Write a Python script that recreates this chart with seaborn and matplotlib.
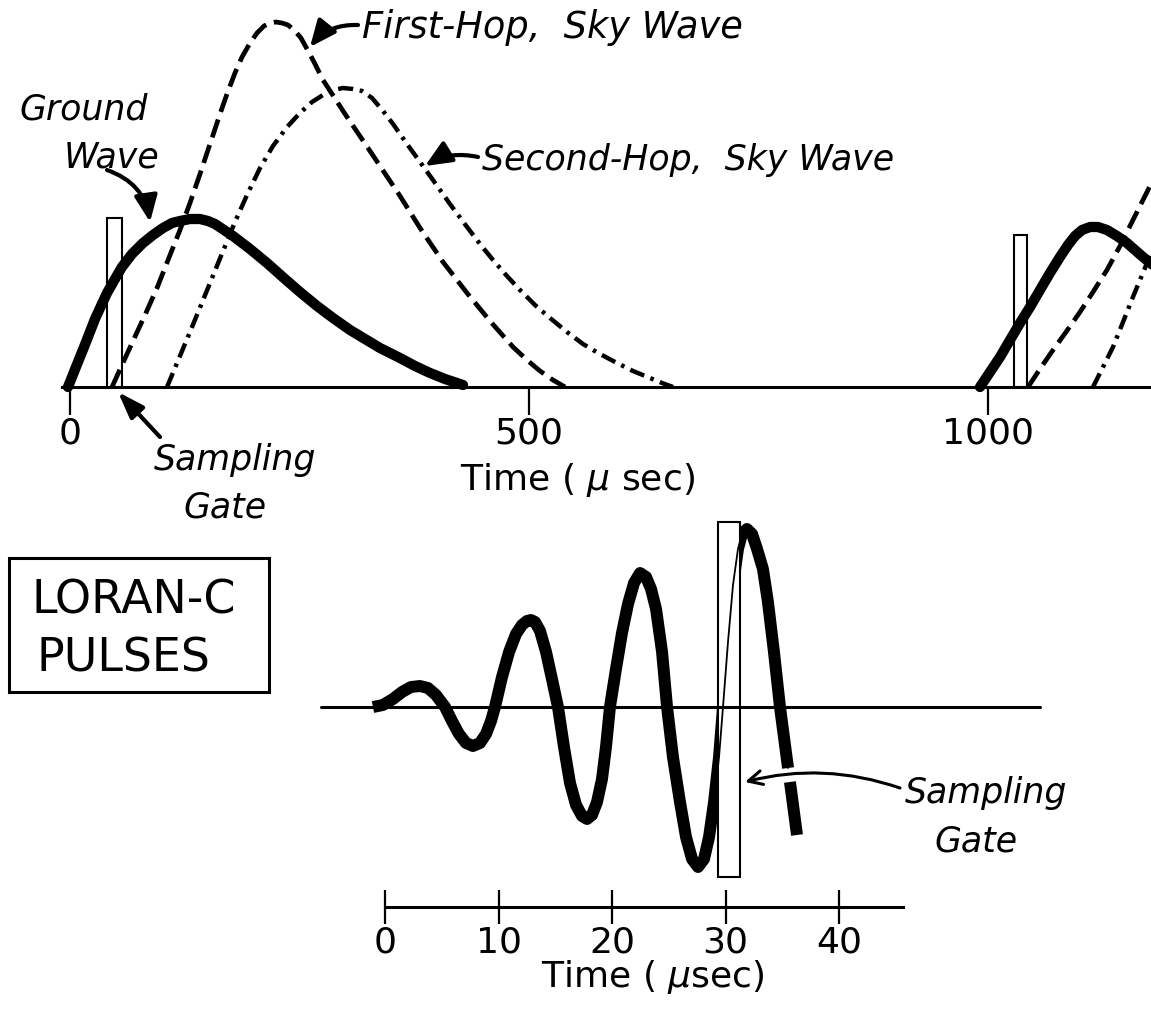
import matplotlib
matplotlib.use("Agg")
import matplotlib.pyplot as plt
import matplotlib.transforms as mtransforms
from matplotlib.patches import Rectangle, FancyArrowPatch
import seaborn as sns

# ---------------- data (time in microseconds, amplitude in arbitrary units) ----------------
# Upper panel: first pulse
gw1_t   = [-2.2, 6.5, 15.3, 27.2, 40.3, 49.0, 56.6, 67.5, 79.5, 90.4, 101.3, 111.1, 119.8, 130.7, 141.6,
           150.3, 158.0, 177.6, 196.1, 214.6, 234.2, 250.5, 269.1, 286.5, 305.0, 315.9, 337.7, 359.5,
           375.8, 392.2, 408.5, 428.1]
gw1_amp = [0, 20, 40, 68, 94, 108, 120, 133, 144, 152, 159, 164, 166, 168, 168,
           166, 163, 151, 138, 124, 108, 95, 81, 69, 57, 51, 39, 29,
           21, 14, 8, 2]

hop1_t   = [45.8, 56.6, 68.6, 81.7, 94.8, 106.8, 119.8, 130.7, 141.6, 149.2, 155.8, 163.4, 171.0, 179.7,
            187.4, 196.1, 203.7, 211.3, 217.9, 224.4, 230.9, 237.5, 245.1, 251.6, 258.2, 265.8, 275.6,
            299.6, 326.8, 359.5, 381.3, 406.3, 432.5, 457.5, 482.6, 497.8, 512.0, 526.1, 539.2]
hop1_amp = [0, 22, 46, 72, 99, 127, 157, 184, 213, 234, 252, 273, 293, 314,
            330, 344, 354, 361, 364, 365, 364, 362, 356, 349, 338, 325, 307,
            273, 236, 191, 159, 125, 94, 66, 40, 27, 16, 7, 0]

hop2_t   = [105.7, 116.6, 127.5, 138.3, 152.5, 166.7, 179.7, 192.8, 207.0, 221.1, 236.4, 250.5, 263.6,
            275.6, 286.5, 297.4, 308.3, 318.1, 329.0, 341.0, 351.9, 367.1, 381.3, 395.4, 413.9, 432.5,
            446.6, 460.8, 476.0, 490.2, 506.5, 522.9, 541.4, 558.8, 577.3, 595.9, 613.3, 631.8, 644.9, 656.9]
hop2_amp = [0, 24, 48, 72, 104, 136, 165, 192, 219, 241, 260, 274, 285,
            292, 297, 299, 298, 296, 289, 276, 263, 243, 225, 207, 183, 160,
            143, 127, 111, 97, 82, 69, 55, 43, 33, 24, 16, 9, 4, 0]

# Upper panel: next pulse (cut by the right edge)
gw2_t    = [991.3, 1002.2, 1013.1, 1024.0, 1034.9, 1045.8, 1056.6, 1067.5, 1078.4, 1087.1, 1094.8,
            1102.4, 1111.1, 1119.8, 1129.6, 1140.5, 1151.4, 1168.8, 1187.4]
gw2_amp  = [0, 15, 30, 47, 64, 80, 97, 114, 130, 142, 151, 157, 160, 160, 157, 151, 144, 130, 116]
hop1b_t  = [1043.6, 1056.6, 1070.8, 1085.0, 1100.2, 1114.4, 1129.6, 1143.8, 1157.9, 1173.2, 1187.4]
hop1b_amp = [0, 18, 37, 55, 75, 95, 117, 141, 167, 195, 222]
hop2b_t  = [1114.4, 1125.3, 1136.2, 1147.1, 1157.9, 1173.2, 1187.4]
hop2b_amp = [0, 20, 40, 65, 90, 124, 155]

# Sampling gates of upper panel: start time, width, height
gate_top_start  = [40.3, 1028.3]
gate_top_width  = [16.3, 14.2]
gate_top_height = [169, 152]

top_ticks = [0, 500, 1000]
top_tick_labels = ["0", "500", "1000"]

# Lower panel: one Loran-C pulse (carrier cycles)
pulse_t = [-1.06, -0.18, 0.70, 1.50, 2.29, 3.08, 3.79, 4.49, 5.29,
           5.90, 6.52, 7.14, 7.75, 8.37, 8.90, 9.34, 9.69,
           10.31, 10.93, 11.54, 12.07, 12.51, 12.86, 13.22, 13.66, 14.19, 14.71, 15.24,
           15.77, 16.30, 16.83, 17.36, 17.80, 18.24, 18.68, 19.12, 19.47, 19.82,
           20.35, 20.88, 21.41, 21.94, 22.47, 23.00, 23.44, 23.88, 24.41, 24.85,
           25.37, 25.99, 26.52, 27.05, 27.58, 28.11, 28.55, 28.99, 29.43, 29.78,
           30.22, 30.66, 31.10, 31.45, 31.89, 32.34, 32.78, 33.30, 33.74, 34.27, 34.80,
           35.51]
pulse_amp = [0, 2, 8, 15, 20, 21, 19, 12, 0,
             -14, -27, -36, -39, -36, -27, -14, 0,
             30, 55, 73, 82, 86, 87, 85, 76, 55, 28, 0,
             -40, -76, -98, -109, -112, -108, -95, -72, -40, 0,
             38, 74, 103, 124, 134, 130, 118, 98, 55, 0,
             -50, -95, -130, -152, -160, -152, -130, -95, -50, 0,
             65, 122, 158, 173, 178, 173, 158, 138, 105, 55, 0,
             -61]
tail_t = [35.68, 36.30]
tail_amp = [-75, -128]
base_t = [-5.6, 57.7]
base_amp = [0, 0]

gate_bot_start, gate_bot_width = 29.34, 1.94
gate_bot_low, gate_bot_high = -170, 185

bot_ticks = [0, 10, 20, 30, 40]
bot_tick_labels = ["0", "10", "20", "30", "40"]

# ---------------- figure ----------------
sns.set_style("white")
plt.rcParams["font.family"] = ["DejaVu Sans"]
plt.rcParams["mathtext.fontset"] = "dejavusans"
plt.rcParams["text.color"] = "black"
plt.rcParams["xtick.color"] = "black"

W, H = 1151, 1009
fig = plt.figure(figsize=(W / 100, H / 100), dpi=100)
fig.patch.set_facecolor("white")
PX = mtransforms.Affine2D().scale(1 / W, -1 / H).translate(0, 1) + fig.transFigure

K = "black"
DASH = (0, (4.0, 1.7))
DASHDOT = (0, (3.4, 1.5, 0.8, 1.5))

def curve(a, t, v, lw, ls=None, z=3, cap="round"):
    sns.lineplot(x=t, y=v, ax=a, color=K, linewidth=lw, estimator=None, sort=False,
                 clip_on=False, zorder=z)
    ln = a.lines[-1]
    ln.set_solid_capstyle(cap)
    ln.set_solid_joinstyle("round")
    if ls is not None:
        ln.set_linestyle(ls)
        ln.set_dash_capstyle("butt")
    return ln

# ---- upper axes ----
ax = fig.add_axes([0, (H - 387) / H, 1, 387 / H])
ax.patch.set_alpha(0)

curve(ax, gw1_t, gw1_amp, 7.4, z=4)
curve(ax, hop1_t, hop1_amp, 3.4, DASH)
curve(ax, hop2_t, hop2_amp, 3.2, DASHDOT)
curve(ax, gw2_t, gw2_amp, 7.4, z=4)
curve(ax, hop1b_t, hop1b_amp, 3.4, DASH)
curve(ax, hop2b_t, hop2b_amp, 3.2, DASHDOT)

for s, w, h in zip(gate_top_start, gate_top_width, gate_top_height):
    ax.add_patch(Rectangle((s, 0), w, h, fill=False, ec=K, lw=1.5, zorder=2, clip_on=False))

ax.set_xlim(-70 / 0.918, (W - 70) / 0.918)
ax.set_ylim(0, 387)
for sp in ["top", "left", "right"]:
    ax.spines[sp].set_visible(False)
ax.spines["bottom"].set_linewidth(2.2)
ax.spines["bottom"].set_color(K)
ax.spines["bottom"].set_bounds(-9, 1200)
ax.set_yticks([])
ax.set_xticks(top_ticks)
ax.set_xticklabels(top_tick_labels)
ax.tick_params(axis="x", bottom=True, direction="out", length=20, width=1.6,
               labelsize=26, pad=1, colors=K)

# ---- lower axes ----
bx = fig.add_axes([300 / W, (H - 907) / H, 800 / W, 407 / H])
bx.patch.set_alpha(0)
curve(bx, base_t, base_amp, 2.2, z=5)
curve(bx, pulse_t, pulse_amp, 8.6, z=3, cap="butt")
curve(bx, tail_t, tail_amp, 8.6, z=3, cap="butt")
bx.add_patch(Rectangle((gate_bot_start, gate_bot_low), gate_bot_width, gate_bot_high - gate_bot_low,
                       fc="white", ec=K, lw=1.5, zorder=4, clip_on=False))
curve(bx, pulse_t, pulse_amp, 1.3, z=5)

bx.set_xlim((300 - 385) / 11.35, (1100 - 385) / 11.35)
bx.set_ylim(-200, 207)
for sp in ["top", "left", "right"]:
    bx.spines[sp].set_visible(False)
bx.spines["bottom"].set_linewidth(2.2)
bx.spines["bottom"].set_color(K)
bx.spines["bottom"].set_bounds(0, 45.6)
bx.set_yticks([])
bx.set_xticks(bot_ticks)
bx.set_xticklabels(bot_tick_labels)
bx.tick_params(axis="x", bottom=True, direction="inout", length=25, width=1.6,
               labelsize=26, pad=1, colors=K)

# ---------------- texts ----------------
lab = dict(fontsize=25, style="italic", color=K, transform=PX, va="baseline")
fig.text(84, 120, "Ground", ha="center", **lab)
fig.text(112, 167, "Wave", ha="center", **lab)
fig.text(362, 38, "First-Hop,  Sky Wave", ha="left", **{**lab, "fontsize": 26.5})
fig.text(482, 170, "Second-Hop,  Sky Wave", ha="left", **lab)
fig.text(235, 470, "Sampling", ha="center", **lab)
fig.text(225, 517, "Gate", ha="center", **lab)
fig.text(986, 803, "Sampling", ha="center", **lab)
fig.text(976, 852, "Gate", ha="center", **lab)

fig.text(578, 490, "Time ( $\\mu$ sec)", ha="center", va="baseline", fontsize=26, color=K, transform=PX)
fig.text(653, 987, "Time ( $\\mu$sec)", ha="center", va="baseline", fontsize=26, color=K, transform=PX)

fig.add_artist(Rectangle((9, 558), 260, 134, transform=PX, fill=False, ec=K, lw=2.2))
fig.text(32, 614, "LORAN-C", ha="left", va="baseline", fontsize=33, color=K, transform=PX)
fig.text(37, 672, "PULSES", ha="left", va="baseline", fontsize=33, color=K, transform=PX)

# ---------------- arrows ----------------
def arrow(a, b, rad, style, lw, ms=20):
    fig.add_artist(FancyArrowPatch(a, b, transform=PX, arrowstyle=style,
                                   connectionstyle=f"arc3,rad={rad}", mutation_scale=ms,
                                   lw=lw, color=K, shrinkA=0, shrinkB=0, zorder=6))

solid = "-|>,head_length=0.8,head_width=0.35"
arrow((107, 170), (150, 222), -0.3, solid, 3)
arrow((358, 25), (310, 47), 0.25, solid, 3)
arrow((478, 157), (425, 166), 0.2, solid, 3)
arrow((160, 437), (118, 392), 0.0, "-|>,head_length=0.8,head_width=0.28", 3)
arrow((900, 788), (745, 782), 0.15, "->,head_length=0.5,head_width=0.25", 2.2)

fig.savefig("out.png", dpi=100, facecolor="white")
